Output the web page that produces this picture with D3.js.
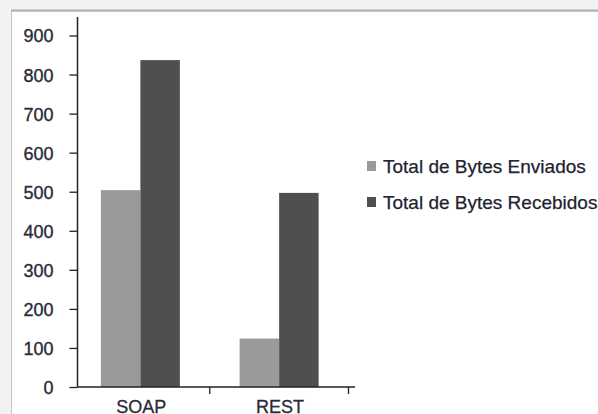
<!DOCTYPE html>
<html>
<head>
<meta charset="utf-8">
<script src="https://cdn.jsdelivr.net/npm/d3@7"></script>
<style>
  body { margin: 0; background: #f2f2f2; }
  svg { display: block; font-family: "Liberation Sans", Arial, sans-serif; }
</style>
</head>
<body>
<div class="content"></div>
<script>
// data
var categories = ["SOAP", "REST"];
var seriesNames = ["Total de Bytes Enviados", "Total de Bytes Recebidos"];
var sentValues = [504, 124];
var receivedValues = [837, 497];
var yTicks = [0, 100, 200, 300, 400, 500, 600, 700, 800, 900];
var colors = ["#9a9a9a", "#4f4f4f"];

var W = 598, H = 414;

var svg = d3.select(".content")
    .append("svg")
    .attr("width", W)
    .attr("height", H);

// the grey window frame around the white chart area
svg.append("rect")
    .attr("x", 0).attr("y", 0)
    .attr("width", W).attr("height", H)
    .attr("fill", "#f2f2f2");
svg.append("rect")
    .attr("x", 11.5).attr("y", 11)
    .attr("width", W).attr("height", H)
    .attr("fill", "#ffffff")
    .attr("stroke", "#c4c4c4")
    .attr("stroke-width", 1);
svg.append("line")
    .attr("x1", 11).attr("x2", W)
    .attr("y1", 10.5).attr("y2", 10.5)
    .attr("stroke", "#b0b0b0")
    .attr("stroke-width", 2);

var axisX = 77.5, baseY = 387;

// scales
var y = d3.scaleLinear()
    .domain([0, 900])
    .range([baseY, 35.5]);

var x0 = d3.scaleBand()
    .domain(categories)
    .range([71, 348.5]);

var x1 = d3.scaleBand()
    .domain([0, 1])
    .range([-39.5, 39.5]);

// Y axis
var yAxis = svg.append("g")
    .attr("transform", "translate(" + axisX + ",0)")
    .call(d3.axisLeft(y).tickValues(yTicks).tickSize(8).tickPadding(16));
yAxis.attr("font-size", null).attr("font-family", null);
yAxis.select(".domain").remove();
yAxis.selectAll(".tick line").attr("stroke", "#222").attr("stroke-width", 1.3);
yAxis.selectAll(".tick text")
    .attr("fill", "#2a2a38")
    .attr("stroke", "#2a2a38")
    .attr("stroke-width", 0.35)
    .style("font-size", "18px")
    .attr("dy", "0.36em");
svg.append("line")
    .attr("x1", axisX).attr("x2", axisX)
    .attr("y1", 17).attr("y2", baseY)
    .attr("stroke", "#222").attr("stroke-width", 1.5);

// bars
var groups = svg.selectAll(".cat")
    .data(categories)
    .enter()
    .append("g")
    .attr("transform", function(d) { return "translate(" + (x0(d) + x0.bandwidth() / 2) + ",0)"; });

groups.selectAll("rect")
    .data(function(d, i) { return [sentValues[i], receivedValues[i]]; })
    .enter()
    .append("rect")
    .attr("x", function(d, j) { return x1(j); })
    .attr("width", x1.bandwidth())
    .attr("y", function(d) { return y(d); })
    .attr("height", function(d) { return baseY - y(d); })
    .attr("fill", function(d, j) { return colors[j]; });

// X axis
svg.append("line")
    .attr("x1", axisX).attr("x2", 355)
    .attr("y1", baseY).attr("y2", baseY)
    .attr("stroke", "#222").attr("stroke-width", 1.5);
svg.selectAll(".xtick")
    .data(categories)
    .enter()
    .append("line")
    .attr("x1", function(d) { return x0(d) + x0.bandwidth(); })
    .attr("x2", function(d) { return x0(d) + x0.bandwidth(); })
    .attr("y1", baseY).attr("y2", baseY + 7)
    .attr("stroke", "#222").attr("stroke-width", 1.3);
svg.selectAll(".xlabel")
    .data(categories)
    .enter()
    .append("text")
    .attr("x", function(d) { return x0(d) + x0.bandwidth() / 2 + 1; })
    .attr("y", 413)
    .attr("text-anchor", "middle")
    .attr("fill", "#2a2a38")
    .attr("stroke", "#2a2a38")
    .attr("stroke-width", 0.3)
    .style("font-size", "18px")
    .text(function(d) { return d; });

// legend
var legend = svg.selectAll(".legend")
    .data(seriesNames)
    .enter()
    .append("g")
    .attr("transform", function(d, i) { return "translate(367," + (161 + i * 36) + ")"; });
legend.append("rect")
    .attr("width", 9).attr("height", 10)
    .attr("fill", function(d, i) { return colors[i]; });
legend.append("text")
    .attr("x", 16)
    .attr("y", 5)
    .attr("dy", "0.36em")
    .attr("fill", "#222230")
    .attr("stroke", "#222230")
    .attr("stroke-width", 0.25)
    .style("font-size", "19px")
    .text(function(d) { return d; });
</script>
</body>
</html>
